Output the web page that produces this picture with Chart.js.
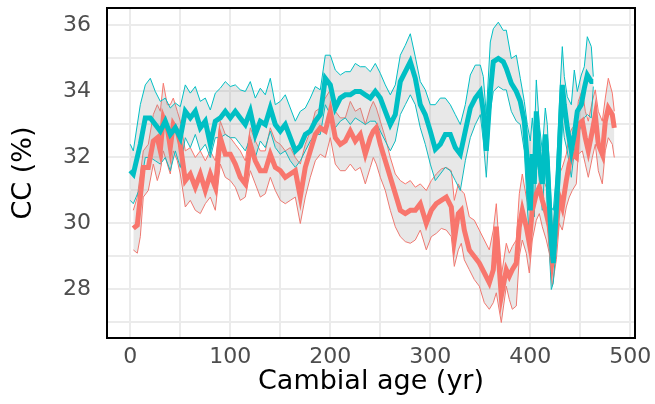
<!DOCTYPE html>
<html>
<head>
<meta charset="utf-8">
<script src="https://cdn.jsdelivr.net/npm/chart.js@4"></script>
<style>
  body { margin: 0; background: #fff; }
</style>
</head>
<body>
<canvas id="myChart" width="655" height="404"></canvas>
<script>
// teal group
const ageTeal = [0,3,10,15,20,25,30,35,40,45,50,55,60,65,70,75,80,85,90,95,100,105,110,115,120,125,130,135,140,145,150,155,160,165,170,175,180,185,190,195,200,205,210,215,220,225,230,235,240,245,250,255,260,265,270,275,280,285,290,295,300,305,310,315,320,325,330,335,340,345,350,353,356,360,363,368,373,376,381,386,390,394,397,400,402,404,406,409,412,415,417,421,423,426,429,432,434,437,441,444,447,451,454,457,461,463]
const ccTeal = [31.6,31.5,32.4,33.2,33.2,33.0,32.8,33.1,32.7,32.9,32.6,33.4,33.2,33.4,32.9,33.1,32.4,33.1,33.2,33.4,33.2,33.4,33.2,33.0,33.4,32.7,33.1,33.0,33.5,33.0,32.8,33.0,32.6,32.2,32.35,32.7,32.8,33.1,33.3,34.4,34.2,33.5,33.8,33.9,33.9,34.0,34.0,33.9,33.8,34.0,33.8,33.4,33.0,33.3,34.3,34.6,34.9,34.4,33.6,33.3,32.8,32.25,32.4,32.7,32.7,32.3,32.1,32.8,33.5,33.8,34.0,33.4,32.2,34.0,34.9,35.0,34.9,34.7,34.25,34.0,33.7,33.1,31.9,30.4,32.1,31.2,33.4,31.9,31.2,32.7,31.9,29.4,28.8,30.4,32.2,34.2,33.6,32.9,32.2,32.7,33.4,33.6,34.1,34.5,34.3,34.3]
const ccTealHi = [32.4,32.2,33.6,34.2,34.4,34.0,33.7,33.8,33.5,33.65,33.54,34.2,33.95,34.15,33.7,33.8,33.44,33.95,34.1,34.3,34.15,34.2,34.05,34.0,34.3,33.8,34.1,33.9,34.4,33.6,33.7,33.9,33.5,33.1,33.4,33.5,33.8,34.15,34.05,35.1,35.1,34.65,34.5,34.6,34.6,34.85,34.75,34.75,34.6,34.85,34.55,34.2,33.9,34.2,35.1,35.4,35.75,35.05,34.3,34.05,33.6,33.6,33.8,33.8,33.6,33.3,33.0,33.6,34.5,34.8,34.8,34.45,33.3,35.5,35.9,36.1,35.85,35.86,35.0,35.1,34.4,33.7,33.0,32.5,33.2,32.5,34.35,33.0,32.2,33.5,33.0,30.5,30.4,31.5,33.6,35.36,34.45,33.84,33.6,34.65,34.0,34.5,34.75,35.66,35.36,34.45]
const ccTealLo = [30.7,30.6,31.1,32.0,32.0,31.9,31.8,32.0,31.6,32.2,31.7,32.6,32.3,32.7,32.2,32.4,32.0,32.6,32.6,32.7,32.6,32.6,32.4,32.2,32.6,32.0,32.5,32.3,32.8,32.3,32.1,32.2,31.9,31.7,31.9,32.2,32.5,32.7,32.7,33.6,33.3,32.9,33.1,33.2,33.0,33.2,33.1,33.0,33.1,33.1,32.8,32.5,32.2,32.5,33.3,33.6,33.9,33.6,32.9,32.4,31.8,31.3,31.5,31.7,31.6,31.3,31.0,31.9,32.6,33.0,33.3,32.5,31.4,33.4,34.0,34.15,34.05,34.05,33.4,33.1,33.0,32.2,30.5,29.2,31.4,30.2,32.4,31.3,30.4,31.9,30.4,28.0,28.2,29.4,30.9,33.2,32.6,32.2,31.4,32.2,32.6,33.0,33.2,33.3,33.2,34.15]

// salmon group
const ageSalmon = [3,7,10,13,18,23,27,30,33,37,40,43,47,50,55,60,65,70,75,80,85,90,95,100,105,110,115,120,125,130,135,140,145,150,155,160,165,170,175,180,185,190,195,200,205,210,215,220,225,230,235,240,243,246,250,255,260,265,270,275,280,285,290,296,301,306,311,316,321,324,328,331,334,339,344,349,354,359,363,366,371,376,379,382,386,389,392,396,399,402,406,409,412,416,419,422,426,429,432,436,439,442,446,448,452,455,458,462,465,468,472,475,478,482,484]
const ccSalmon = [29.85,29.95,30.8,31.7,31.7,32.5,32.6,32.2,33.2,32.9,32.3,33.0,32.8,32.4,31.3,31.5,31.1,31.5,31.0,31.5,31.1,32.6,32.1,32.1,31.8,31.4,31.2,32.4,31.9,31.6,31.6,32.1,31.7,31.6,31.4,31.5,31.6,30.8,31.7,32.2,32.7,32.9,32.8,33.4,32.6,32.4,32.5,32.8,32.5,32.7,32.1,32.6,32.8,32.9,32.4,31.9,31.4,30.9,30.4,30.3,30.4,30.4,30.6,30.0,30.4,30.6,30.7,30.8,30.5,29.5,30.3,30.4,29.8,29.2,29.0,28.8,28.5,28.2,28.6,29.9,27.8,28.6,28.4,28.6,28.8,29.9,30.4,29.9,29.4,30.4,30.9,31.1,30.7,30.3,29.9,28.9,29.8,30.8,30.5,31.3,31.8,32.1,32.0,33.0,33.1,32.6,32.2,32.8,33.3,32.4,32.1,33.1,33.5,33.3,32.9]
const ccSalmonHi = [30.4,30.8,31.5,32.2,32.4,33.3,33.6,33.4,34.25,33.6,33.6,33.8,33.4,33.1,32.2,32.3,32.0,32.2,31.9,32.2,31.9,33.1,32.7,32.6,32.4,32.2,31.9,32.9,32.5,32.2,32.2,32.9,32.5,32.4,32.2,32.3,32.0,31.8,32.4,32.8,33.4,33.5,33.8,34.05,33.4,33.2,33.2,33.7,33.4,33.5,33.0,33.5,33.7,33.5,33.1,32.6,32.0,31.5,31.3,31.2,31.3,31.1,31.2,31.0,31.3,31.5,31.65,31.7,31.6,30.7,31.2,31.0,30.9,30.2,30.1,29.8,29.5,29.2,29.8,30.6,28.4,29.4,29.1,29.3,29.5,30.9,31.5,30.8,30.4,31.2,31.7,31.8,31.4,31.1,30.8,29.9,30.6,31.5,31.7,32.1,32.7,32.9,33.0,33.7,34.05,33.4,33.1,33.7,34.05,33.4,33.1,33.8,34.4,33.95,33.4]
const ccSalmonLo = [29.2,29.1,29.6,30.8,31.0,31.8,31.3,31.6,32.2,31.8,31.5,32.2,31.9,31.5,30.5,30.7,30.4,30.3,30.6,30.8,30.4,31.8,31.4,31.3,31.1,30.7,30.8,31.6,31.2,30.8,30.9,31.4,31.0,30.7,30.6,30.7,30.8,30.0,30.8,31.4,31.9,32.1,32.0,32.6,31.8,31.6,31.6,31.8,31.6,31.7,31.2,31.7,32.0,31.8,31.4,31.0,30.4,29.9,29.6,29.45,29.4,29.5,29.8,29.2,29.6,29.7,29.85,29.8,29.6,28.7,29.2,29.4,28.9,28.6,28.3,28.1,27.6,27.4,27.6,27.9,27.0,28.1,27.7,27.4,27.5,29.0,29.5,29.1,28.5,29.5,30.1,30.3,29.9,29.5,29.1,28.1,28.9,30.0,29.8,30.5,30.8,31.0,31.2,32.1,32.2,31.8,31.4,32.0,32.4,31.6,31.2,32.2,32.6,32.4,32.0]

// ticks
const xTicks = [0,100,200,300,400,500]
const xMinor = [50,150,250,350,450]
const yTicks = [28,30,32,34,36]
const yMinor = [27,29,31,33,35]

const teal = '#00BFC4'
const salmon = '#F8766D'
const banda = 'rgba(150,150,150,0.22)'

function pts(xs, ys){
    return xs.map((x,i) => ({x: x, y: ys[i]}))
}

function linea(data, color, width, order, fill){
    return {
        data: data,
        borderColor: color,
        borderWidth: width,
        backgroundColor: banda,
        pointRadius: 0,
        tension: 0,
        fill: fill,
        order: order
    }
}

// marco negro del panel
const marco = {
    id: 'marco',
    afterDraw(chart){
        const a = chart.chartArea
        const c = chart.ctx
        c.save()
        c.strokeStyle = '#000'
        c.lineWidth = 2
        c.strokeRect(a.left, a.top, a.right - a.left, a.bottom - a.top)
        c.restore()
    }
}

const ctx = document.getElementById('myChart')
const tickFont = {family: 'DejaVu Sans', size: 22}
const titleFont = {family: 'DejaVu Sans', size: 27}

new Chart(ctx, {
    type: 'line',
    data: {
        datasets: [
            linea(pts(ageTeal, ccTeal), teal, 5, 0, false),
            linea(pts(ageSalmon, ccSalmon), salmon, 5, 1, false),
            linea(pts(ageTeal, ccTealHi), teal, 1, 2, '+1'),
            linea(pts(ageTeal, ccTealLo), teal, 1, 3, false),
            linea(pts(ageSalmon, ccSalmonHi), salmon, 1, 4, '+1'),
            linea(pts(ageSalmon, ccSalmonLo), salmon, 1, 5, false)
        ]
    },
    options: {
        responsive: false,
        animation: false,
        layout: {padding: {top: 8, right: 20, left: 0, bottom: 0}},
        plugins: {legend: {display: false}, tooltip: {enabled: false}},
        scales: {
            x: {
                type: 'linear',
                min: -23.3,
                max: 504.7,
                afterBuildTicks: s => { s.ticks = xTicks.concat(xMinor).sort((a,b) => a-b).map(v => ({value: v})) },
                afterFit: s => { s.height = 66; s.paddingLeft = 0; s.paddingRight = 0 },
                grid: {color: '#ebebeb', lineWidth: 2, drawTicks: false},
                border: {display: false},
                ticks: {
                    autoSkip: false, maxRotation: 0, padding: 6,
                    color: '#4d4d4d', font: tickFont,
                    callback: v => xTicks.includes(v) ? String(v) : ''
                },
                title: {display: true, text: 'Cambial age (yr)', color: '#000', font: titleFont, padding: {top: 0, bottom: 6}}
            },
            y: {
                min: 26.53,
                max: 36.53,
                afterBuildTicks: s => { s.ticks = yTicks.concat(yMinor).sort((a,b) => a-b).map(v => ({value: v})) },
                afterFit: s => { s.width = 107; s.paddingTop = 0; s.paddingBottom = 0 },
                grid: {color: '#ebebeb', lineWidth: 2, drawTicks: false},
                border: {display: false},
                ticks: {
                    autoSkip: false, padding: 16,
                    color: '#4d4d4d', font: tickFont,
                    callback: v => yTicks.includes(v) ? String(v) : ''
                },
                title: {display: true, text: 'CC (%)', color: '#000', font: titleFont, padding: {top: 8, bottom: 0}}
            }
        }
    },
    plugins: [marco]
})
</script>
</body>
</html>
